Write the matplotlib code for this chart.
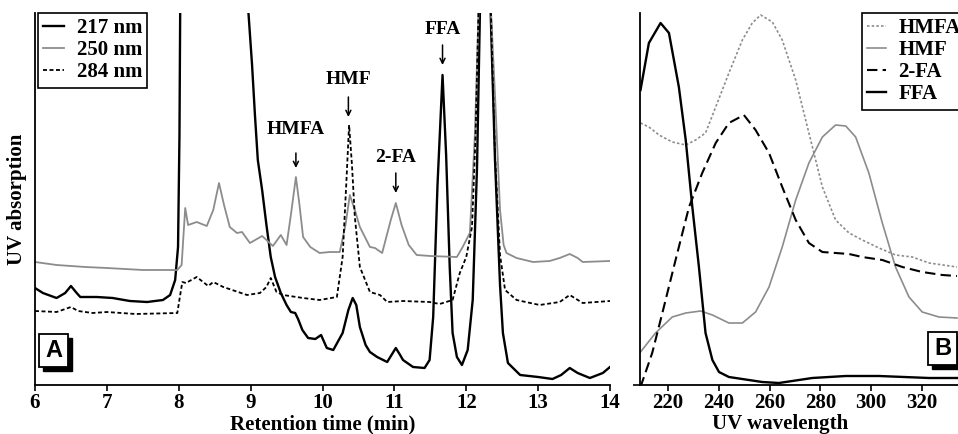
import matplotlib
matplotlib.use("Agg")
import matplotlib.pyplot as plt
from matplotlib.patches import Rectangle

# ---------------- Panel A data (retention time, min ; absorption, arb. units) ----
t_217 = [6.0, 6.11, 6.3, 6.42, 6.5, 6.58, 6.63, 6.86, 7.08, 7.32, 7.56, 7.78, 7.88, 7.95, 7.99, 8.01, 8.03,
         8.5, 8.93, 8.97, 9.02, 9.06, 9.1, 9.16, 9.22, 9.28, 9.34, 9.42, 9.5, 9.56, 9.62, 9.66, 9.72, 9.8,
         9.9, 9.98, 10.06, 10.15, 10.28, 10.36, 10.42, 10.47, 10.52, 10.6, 10.66, 10.76, 10.9, 10.96, 11.02,
         11.08, 11.12, 11.26, 11.42, 11.49, 11.54, 11.6, 11.67, 11.72, 11.77, 11.81, 11.87, 11.94, 12.02,
         12.09, 12.15, 12.19, 12.26, 12.34, 12.4, 12.47, 12.51, 12.58, 12.75, 13.0, 13.2, 13.32, 13.44,
         13.55, 13.72, 13.9, 14.0]
a_217 = [97, 92, 87, 92, 99, 92, 88, 88, 87, 84, 83, 85, 90, 105, 138, 250, 500,
         900, 500, 372, 320, 270, 225, 195, 160, 128, 108, 92, 80, 73, 72, 66, 55, 47,
         46, 50, 37, 35, 52, 75, 87, 80, 58, 40, 33, 28, 23, 30, 37,
         30, 25, 18, 17, 25, 68, 200, 310, 230, 118, 52, 28, 20, 35,
         85, 218, 372, 600, 372, 225, 100, 52, 22, 10, 8, 6, 10, 17,
         12, 7, 12, 18]

t_250 = [6.0, 6.3, 6.5, 6.7, 7.0, 7.5, 7.98, 8.04, 8.09, 8.13, 8.25, 8.39, 8.48, 8.56, 8.63, 8.71, 8.81,
         8.88, 8.99, 9.16, 9.31, 9.42, 9.5, 9.56, 9.63, 9.68, 9.73, 9.83, 9.96, 10.1, 10.24, 10.32, 10.38,
         10.45, 10.52, 10.66, 10.73, 10.83, 10.95, 11.02, 11.1, 11.2, 11.31, 11.5, 11.87, 11.95, 12.05,
         12.12, 12.17, 12.26, 12.34, 12.4, 12.47, 12.52, 12.56, 12.7, 12.93, 13.16, 13.3, 13.44, 13.55,
         13.62, 14.0]
a_250 = [123, 120, 119, 118, 117, 115, 115, 120, 177, 160, 163, 159, 175, 202, 180, 158, 152,
         153, 142, 149, 139, 150, 140, 170, 208, 180, 148, 138, 132, 133, 133, 160, 190,
         175, 158, 138, 137, 132, 165, 182, 160, 140, 130, 129, 128, 138, 152,
         250, 372, 600, 380, 290, 175, 140, 132, 127, 123, 124, 127, 131, 127,
         123, 124]

t_284 = [6.0, 6.3, 6.5, 6.6, 6.8, 7.0, 7.4, 7.98, 8.02, 8.05, 8.1, 8.25, 8.41, 8.48, 8.62, 8.95, 9.13,
         9.22, 9.28, 9.36, 9.45, 9.73, 9.96, 10.2, 10.28, 10.33, 10.37, 10.41, 10.45, 10.52, 10.66, 10.8,
         10.9, 11.12, 11.49, 11.63, 11.81, 11.91, 12.0, 12.08, 12.13, 12.17, 12.26, 12.34, 12.4, 12.47,
         12.54, 12.7, 13.02, 13.3, 13.44, 13.62, 14.0]
a_284 = [74, 73, 78, 74, 72, 73, 71, 72, 90, 103, 102, 108, 99, 103, 98, 90, 92,
         98, 107, 93, 90, 87, 85, 88, 128, 200, 260, 220, 168, 118, 93, 90,
         83, 84, 83, 81, 85, 112, 128, 158, 250, 372, 600, 380, 230, 130,
         95, 85, 80, 83, 90, 82, 84]

peak_names = ["HMFA", "HMF", "2-FA", "FFA"]
peak_times = [9.63, 10.36, 11.02, 11.67]
peak_label_y = [255, 305, 228, 355]
peak_arrow_top = [232, 288, 212, 340]
peak_arrow_tip = [217, 268, 192, 320]

# ---------------- Panel B data (wavelength, nm ; absorption, arb. units) -------
wl_hmfa = [209.2, 212.5, 216.5, 221.7, 227.0, 230.9, 234.8, 238.8, 244.0, 249.3, 253.2, 256.5, 261.1,
           265.0, 270.3, 275.5, 280.8, 286.0, 291.3, 296.5, 303.1, 309.6, 316.2, 322.8, 333.8]
ab_hmfa = [262, 258, 250, 243, 240, 245, 252, 278, 312, 345, 362, 370, 363,
           345, 305, 252, 198, 165, 152, 145, 137, 130, 128, 122, 118]

wl_hmf = [209.2, 215.1, 221.7, 227.0, 232.9, 237.5, 244.0, 249.3, 254.5, 259.8, 265.0, 270.3, 275.5,
          280.8, 286.0, 290.0, 293.9, 299.1, 304.4, 309.6, 314.9, 320.1, 326.7, 333.8]
ab_hmf = [33, 52, 68, 72, 74, 70, 62, 62, 73, 98, 138, 185, 222,
          248, 260, 259, 248, 212, 162, 118, 88, 73, 68, 67]

wl_2fa = [209.2, 213.8, 217.8, 223.0, 228.3, 233.5, 238.8, 244.0, 249.9, 254.5, 259.8, 265.0, 270.3,
          275.5, 280.8, 286.0, 291.3, 296.5, 304.4, 312.3, 320.1, 328.0, 333.8]
ab_2fa = [-2, 32, 72, 125, 178, 212, 242, 262, 270, 255, 232, 198, 165,
          142, 133, 132, 131, 128, 125, 118, 113, 110, 109]

wl_ffa = [209.2, 212.5, 217.1, 220.4, 224.3, 227.0, 229.6, 232.2, 234.8, 237.5, 240.1, 244.0, 257.1,
          263.7, 276.8, 290.0, 303.1, 322.8, 333.8]
ab_ffa = [295, 342, 362, 352, 298, 245, 178, 118, 52, 25, 13, 8, 3,
          2, 7, 9, 9, 7, 7]

xticks_a = [6, 7, 8, 9, 10, 11, 12, 13, 14]
xticks_b = [220, 240, 260, 280, 300, 320]

# ---------------- styling ----------------
SERIF = ["Liberation Serif", "DejaVu Serif"]
SANS = ["Liberation Sans", "DejaVu Sans"]
GRAY = "#8c8c8c"
W, H = 958, 434

fig = plt.figure(figsize=(W / 100, H / 100), dpi=100)
fig.patch.set_facecolor("white")

def frac_box(x0, y_top, x1, y_bot):
    return [x0 / W, 1 - y_bot / H, (x1 - x0) / W, (y_bot - y_top) / H]

axA = fig.add_axes(frac_box(35, 13, 610, 385))
B_WIDTH = (340 - 209) * 2.54
axB = fig.add_axes(frac_box(640, 13, 640 + B_WIDTH, 385))

YLIM = (0, 372)
AX_H = 372.0  # axes height in px
LABEL_Y = 424  # centre of x-axis titles, px from top

# Panel A
lA1, = axA.plot(t_217, a_217, color="black", lw=1.7, label="217 nm")
lA2, = axA.plot(t_250, a_250, color=GRAY, lw=1.3, label="250 nm")
lA3, = axA.plot(t_284, a_284, color="black", lw=1.3, ls=(0, (2.2, 1.4)), label="284 nm")
axA.set_xlim(6, 14)
axA.set_ylim(*YLIM)
axA.set_xticks(xticks_a)
axA.set_yticks([])
for s in ["top", "right"]:
    axA.spines[s].set_visible(False)
for s in ["left", "bottom"]:
    axA.spines[s].set_linewidth(1.3)
axA.tick_params(axis="x", direction="out", length=4, width=1.2, pad=1.5)
for lab in axA.get_xticklabels():
    lab.set_fontfamily(SERIF)
    lab.set_fontweight("bold")
    lab.set_fontsize(15)
axA.set_xlabel("Retention time (min)", fontfamily=SERIF, fontweight="bold", fontsize=15)
axA.xaxis.set_label_coords(0.5, -(LABEL_Y - 385) / AX_H)
axA.xaxis.label.set_va("center")
axA.set_ylabel("UV absorption", fontfamily=SERIF, fontweight="bold", fontsize=15, labelpad=6)

for name, tx, ly, at, ab in zip(peak_names, peak_times, peak_label_y, peak_arrow_top, peak_arrow_tip):
    axA.text(tx, ly, name, ha="center", va="center", fontfamily=SERIF, fontweight="bold", fontsize=14)
    axA.annotate("", xy=(tx, ab), xytext=(tx, at),
                 arrowprops=dict(arrowstyle="->", lw=1.1, color="black", shrinkA=0, shrinkB=0,
                                 mutation_scale=9))

legA = axA.legend(handles=[lA1, lA2, lA3], loc="upper left",
                  bbox_to_anchor=(38 / W, 1 - 13 / H), bbox_transform=fig.transFigure,
                  frameon=True, fancybox=False, edgecolor="black", framealpha=1,
                  borderaxespad=0, borderpad=0.25, handlelength=1.0, handletextpad=0.6,
                  labelspacing=0.1, prop={"family": SERIF, "weight": "bold", "size": 15})
legA.get_frame().set_linewidth(1.2)

# Panel B
lB1, = axB.plot(wl_hmfa, ab_hmfa, color=GRAY, lw=1.2, ls=(0, (1.5, 1.3)), label="HMFA")
lB2, = axB.plot(wl_hmf, ab_hmf, color=GRAY, lw=1.2, label="HMF")
lB3, = axB.plot(wl_2fa, ab_2fa, color="black", lw=1.5, ls=(0, (5, 2.5)), label="2-FA")
lB4, = axB.plot(wl_ffa, ab_ffa, color="black", lw=1.7, label="FFA")
axB.set_xlim(209, 340)
axB.set_ylim(*YLIM)
axB.set_xticks(xticks_b)
axB.set_yticks([0])
axB.set_yticklabels([""])
for s in ["top", "right"]:
    axB.spines[s].set_visible(False)
for s in ["left", "bottom"]:
    axB.spines[s].set_linewidth(1.3)
axB.tick_params(axis="x", direction="out", length=4, width=1.2, pad=1.5)
axB.tick_params(axis="y", direction="out", length=5, width=1.2)
for lab in axB.get_xticklabels():
    lab.set_fontfamily(SERIF)
    lab.set_fontweight("bold")
    lab.set_fontsize(15)
axB.set_xlabel("UV wavelength", fontfamily=SERIF, fontweight="bold", fontsize=15)
axB.xaxis.set_label_coords((780 - 640) / B_WIDTH, -(LABEL_Y - 385) / AX_H)
axB.xaxis.label.set_va("center")

legB = axB.legend(handles=[lB1, lB2, lB3, lB4], loc="upper left",
                  bbox_to_anchor=(862 / W, 1 - 13 / H), bbox_transform=fig.transFigure,
                  frameon=True, fancybox=False, edgecolor="black", framealpha=1,
                  borderaxespad=0, borderpad=0.25, handlelength=0.9, handletextpad=0.6,
                  labelspacing=0.1, prop={"family": SERIF, "weight": "bold", "size": 15})
legB.get_frame().set_linewidth(1.2)

# "A" / "B" panel tags with drop shadow (figure pixel coords)
def tag(letter, x0, y_top, w, h):
    off = 4
    fig.patches.append(Rectangle(((x0 + off) / W, 1 - (y_top + h + off) / H), w / W, h / H,
                                 transform=fig.transFigure, facecolor="black", edgecolor="black",
                                 zorder=10))
    fig.patches.append(Rectangle((x0 / W, 1 - (y_top + h) / H), w / W, h / H,
                                 transform=fig.transFigure, facecolor="white", edgecolor="black",
                                 lw=1.3, zorder=11))
    fig.text((x0 + w / 2) / W, 1 - (y_top + h / 2) / H, letter, ha="center", va="center",
             fontfamily=SANS, fontweight="bold", fontsize=17, zorder=12)

tag("A", 39, 334, 29, 33)
tag("B", 928, 332, 29, 33)

fig.savefig("out.png", dpi=100)
